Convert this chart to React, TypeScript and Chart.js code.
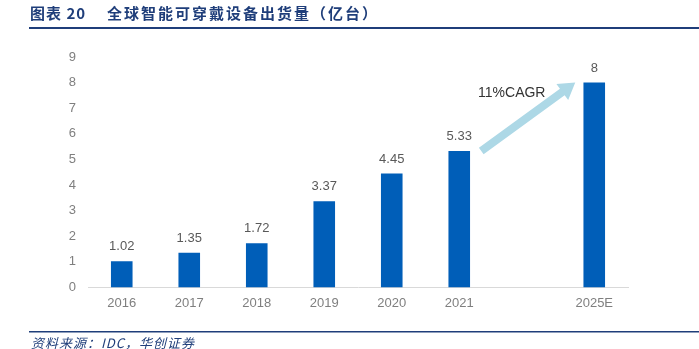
import React, { useEffect, useRef } from "react";
import { Chart, registerables } from "chart.js";
Chart.register(...registerables);

const categories = ["2016", "2017", "2018", "2019", "2020", "2021", "", "2025E"];
const shipments: (number | null)[] = [1.02, 1.35, 1.72, 3.37, 4.45, 5.33, null, 8];
const valueLabels = ["1.02", "1.35", "1.72", "3.37", "4.45", "5.33", "", "8"];
const yTicks = [0, 1, 2, 3, 4, 5, 6, 7, 8, 9];
const titleLabel = "图表 20";
const title = "全球智能可穿戴设备出货量（亿台）";
const source = "资料来源：IDC，华创证券";
const cagrText = "11%CAGR";

const NAVY = "#1F3E7A";
const BAR = "#005EB8";

const decorPlugin = {
  id: "decor",
  afterDraw(chart: any) {
    const ctx = chart.ctx;
    const xs = chart.scales.x;
    const ys = chart.scales.y;
    const meta = chart.getDatasetMeta(0);
    ctx.save();
    // value labels
    ctx.fillStyle = "#595959";
    ctx.font = "13px 'Liberation Sans', Arial, sans-serif";
    ctx.textAlign = "center";
    ctx.textBaseline = "bottom";
    meta.data.forEach((bar: any, i: number) => {
      if (shipments[i] == null) return;
      ctx.fillText(valueLabels[i], bar.x, bar.y - 8);
    });
    // arrow
    const x0 = xs.getPixelForValue(5) + 22;
    const y0 = ys.getPixelForValue(5.33);
    const x1 = xs.getPixelForValue(7) - 19;
    const y1 = ys.getPixelForValue(8);
    const ang = Math.atan2(y1 - y0, x1 - x0);
    const len = Math.hypot(x1 - x0, y1 - y0);
    const sw = 4, hw = 10, hl = 16;
    ctx.translate(x0, y0);
    ctx.rotate(ang);
    ctx.fillStyle = "#ADD8E6";
    ctx.beginPath();
    ctx.moveTo(0, -sw);
    ctx.lineTo(len - hl, -sw);
    ctx.lineTo(len - hl, -hw);
    ctx.lineTo(len, 0);
    ctx.lineTo(len - hl, hw);
    ctx.lineTo(len - hl, sw);
    ctx.lineTo(0, sw);
    ctx.closePath();
    ctx.fill();
    ctx.setTransform(1, 0, 0, 1, 0, 0);
    // CAGR text
    ctx.fillStyle = "#333333";
    ctx.font = "14px 'Liberation Sans', Arial, sans-serif";
    ctx.textAlign = "center";
    ctx.textBaseline = "middle";
    ctx.fillText(cagrText, xs.getPixelForValue(6) - 15, ys.getPixelForValue(7.6));
    // title
    ctx.fillStyle = NAVY;
    ctx.textAlign = "left";
    ctx.textBaseline = "middle";
    ctx.font = "bold 15px 'Noto Sans CJK SC', sans-serif";
    (ctx as any).letterSpacing = "1px";
    ctx.fillText(titleLabel, 30, 13);
    (ctx as any).letterSpacing = "2px";
    ctx.fillText(title, 107, 13);
    ctx.fillRect(29, 27, 670, 2);
    // source
    ctx.fillRect(29, 331, 670, 1.5);
    ctx.font = "italic 13px 'Noto Sans CJK SC', sans-serif";
    (ctx as any).letterSpacing = "1px";
    ctx.fillText(source, 31, 343);
    ctx.restore();
  },
};

export default function App() {
  const ref = useRef<HTMLCanvasElement>(null);
  useEffect(() => {
    document.body.style.margin = "0";
    const chart = new Chart(ref.current!, {
      type: "bar",
      data: {
        labels: categories,
        datasets: [
          {
            data: shipments,
            backgroundColor: BAR,
            barPercentage: 0.32,
            categoryPercentage: 1,
          },
        ],
      },
      options: {
        animation: false,
        responsive: false,
        layout: { padding: { top: 57, right: 71, bottom: 30, left: 0 } },
        plugins: { legend: { display: false }, tooltip: { enabled: false } },
        scales: {
          x: {
            grid: { display: false, drawTicks: false },
            border: { color: "#D9D9D9", width: 1 },
            ticks: {
              color: "#7F7F7F",
              font: { size: 13, family: "'Liberation Sans', Arial, sans-serif" },
              padding: 8,
            },
          },
          y: {
            min: 0,
            max: 9,
            afterFit: (s: any) => { s.width = 88; },
            afterBuildTicks: (s: any) => { s.ticks = yTicks.map((v) => ({ value: v })); },
            grid: { display: false, drawTicks: false },
            border: { display: false },
            ticks: {
              color: "#7F7F7F",
              font: { size: 13, family: "'Liberation Sans', Arial, sans-serif" },
              padding: 12,
            },
          },
        },
      },
      plugins: [decorPlugin],
    });
    return () => chart.destroy();
  }, []);
  return (
    <div style={{ position: "absolute", left: 0, top: 0, width: 699, height: 349, background: "#fff" }}>
      <canvas ref={ref} width={699} height={349} style={{ width: 699, height: 349 }} />
    </div>
  );
}
